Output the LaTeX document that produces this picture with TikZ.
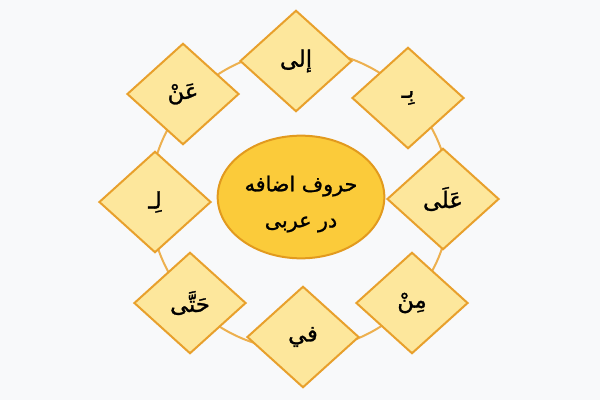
\documentclass[tikz,border=0pt]{standalone}
\usepackage{fontspec}
\usetikzlibrary{shapes.geometric}
\TeXXeTstate=1
\newfontfamily\arabicfont[Script=Arabic,FakeBold=1.2]{DejaVu Sans}
\definecolor{bgc}{HTML}{F8F9FA}
\definecolor{dfill}{HTML}{FDE79C}
\definecolor{dline}{HTML}{E8A02C}
\definecolor{efill}{HTML}{FBCB3A}
\definecolor{eline}{HTML}{E29A1E}
\definecolor{ringc}{HTML}{EDB04F}
\tikzset{
  prep/.style={diamond, draw=dline, fill=dfill, line width=1.5pt, inner sep=0pt,
    minimum width=84pt, minimum height=76pt, font=\arabicfont\fontsize{17}{20}\selectfont, text=black},
  hub/.style={ellipse, draw=eline, fill=efill, line width=1.5pt, inner sep=0pt,
    minimum width=125pt, minimum height=92pt},
  hubtext/.style={align=center, inner sep=0pt,
    font=\arabicfont\fontsize{15.5}{27}\selectfont, text=black},
  ring/.style={draw=ringc, line width=1.5pt}
}
\begin{document}
\begin{tikzpicture}[x=0.75pt,y=-0.75pt]
\fill[bgc] (0,0) rectangle (600,400);
\useasboundingbox (0,0) rectangle (600,400);
\coordinate (c) at (300,200);
\draw[ring] (c) circle[radius=150];
\node[hub] (center) at (301,197) {};
\node[hubtext] (centertext) at (301,204) {\beginR حروف اضافه\endR\\\beginR در عربی\endR};
\node[prep] (ila) at (296,61) {\beginR إلى\endR};
\node[prep] (bi) at (408,98) {\beginR بِـ\endR};
\node[prep] (ala) at (443,199) {\beginR عَلَى\endR};
\node[prep] (min) at (412,303) {\beginR مِنْ\endR};
\node[prep] (fi) at (303,337) {\beginR في\endR};
\node[prep] (hatta) at (190,303) {\beginR حَتَّى\endR};
\node[prep] (li) at (155,202) {\beginR لِـ\endR};
\node[prep] (an) at (183,94) {\beginR عَنْ\endR};
\end{tikzpicture}
\end{document}
